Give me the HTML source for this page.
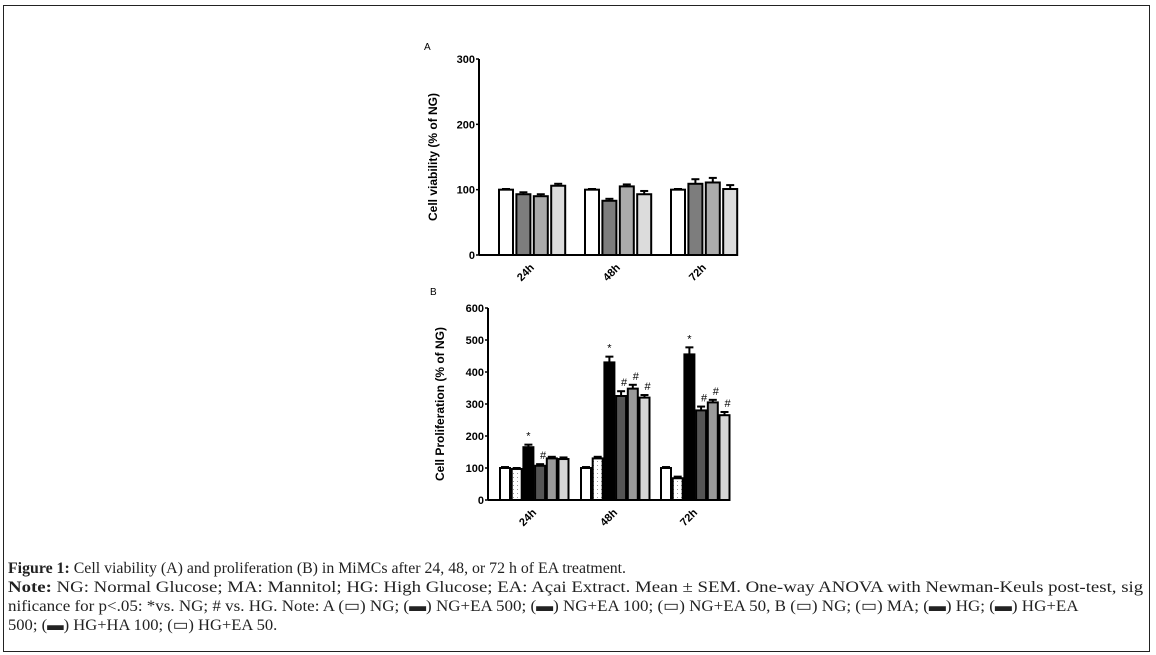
<!DOCTYPE html>
<html><head><meta charset="utf-8">
<style>
html,body{margin:0;padding:0;background:#fff;width:1156px;height:655px;overflow:hidden}
#frame{position:absolute;left:3px;top:5px;width:1147px;height:647px;border:1.5px solid #222;box-sizing:border-box}
.cap{position:absolute;left:8px;font-family:"Liberation Serif",serif;font-size:16px;color:#222;white-space:nowrap;line-height:19px;transform-origin:0 0}
svg text{font-family:"Liberation Sans",sans-serif}
</style></head><body>
<div id="frame"></div>
<svg id="chart" width="1156" height="655" style="position:absolute;left:0;top:0"></svg>
<div class="cap" data-w="618" style="top:559px"><b>Figure 1:</b> Cell viability (A) and proliferation (B) in MiMCs after 24, 48, or 72 h of EA treatment.</div>
<div class="cap" data-w="1135" style="top:578px"><b>Note:</b> NG: Normal Glucose; MA: Mannitol; HG: High Glucose; EA: Açai Extract. Mean ± SEM. One-way ANOVA with Newman-Keuls post-test, sig</div>
<div class="cap" data-w="1071" style="top:597px">nificance for p&lt;.05: *vs. NG; # vs. HG. Note: A (▭) NG; (▬) NG+EA 500; (▬) NG+EA 100; (▭) NG+EA 50, B (▭) NG; (▭) MA; (▬) HG; (▬) HG+EA</div>
<div class="cap" data-w="269" style="top:616px">500; (▬) HG+HA 100; (▭) HG+EA 50.</div>
<script>
const categories=["24h","48h","72h"];
const aValues=[[100,93,90,106],[100,83,105,93],[100,109,111,101]];
const aErrors=[[1,3,3,3],[1,3,3,5],[1,7,7,6]];
const aTicks=[0,100,200,300];
const bValues=[[100,97,165,107,130,128],[100,130,430,325,348,320],[100,68,455,280,305,265]];
const bErrors=[[3,3,8,5,5,5],[3,5,18,15,12,8],[3,5,22,12,8,10]];
const bMarks=[["","","*","#","",""],["","","*","#","#","#"],["","","*","#","#","#"]];
const bTicks=[0,100,200,300,400,500,600];

document.querySelectorAll('.cap').forEach(c=>{const w=+c.getAttribute('data-w');const s=w/c.scrollWidth;c.style.transform='scaleX('+s+')';});

const NS="http://www.w3.org/2000/svg";
const svg=document.getElementById('chart');
function mk(tag,attrs,parent){const e=document.createElementNS(NS,tag);for(const k in attrs)e.setAttribute(k,attrs[k]);(parent||svg).appendChild(e);return e;}

const defs=mk('defs',{});
const pat=mk('pattern',{id:'dots',width:4,height:4,patternUnits:'userSpaceOnUse'},defs);
mk('rect',{width:4,height:4,fill:'#fff'},pat);
mk('rect',{x:1,y:1,width:1,height:1,fill:'#999'},pat);

function drawChart(cfg){
  const g=mk('g',{});
  
  
  const y=v=>cfg.y0-(v/cfg.ymax)*(cfg.y0-cfg.ytop);
  const barX=(gi,si)=>cfg.gStart[gi]+si*cfg.step;
  const ya=mk('line',{x1:cfg.ax,y1:cfg.ytop,x2:cfg.ax,y2:cfg.y0,stroke:'#000','stroke-width':2},g);
  
  const xa=mk('line',{x1:cfg.ax,y1:cfg.y0,x2:cfg.xend,y2:cfg.y0,stroke:'#000','stroke-width':2},g);
  
  cfg.ticks.forEach(t=>{
    mk('line',{x1:cfg.ax-3,y1:y(t),x2:cfg.ax,y2:y(t),stroke:'#000','stroke-width':1.5},g);
    const tx=mk('text',{x:cfg.ax-4,y:y(t)+4,'text-anchor':'end','font-size':11,'font-weight':'bold'},g);
    tx.textContent=t;
    
  });
  const yt=mk('text',{transform:`translate(${cfg.titleX},${(cfg.ytop+cfg.y0)/2}) rotate(-90)`,'text-anchor':'middle','font-size':12,'font-weight':'bold'},g);
  yt.textContent=cfg.title;
  
  const pl=mk('text',{x:cfg.panelX,y:cfg.panelY,'font-size':10},g);
  pl.textContent=cfg.panel;
  
  categories.forEach((c,gi)=>{
    cfg.values[gi].forEach((v,si)=>{
      const x=barX(gi,si), e=cfg.errors[gi][si];
      const ex=x+cfg.bw/2;
      const el=mk('line',{x1:ex,y1:y(v),x2:ex,y2:y(v+e),stroke:'#000','stroke-width':2},g);
      
      mk('line',{x1:ex-4,y1:y(v+e),x2:ex+4,y2:y(v+e),stroke:'#000','stroke-width':2},g);
      const r=mk('rect',{x:x,y:y(v),width:cfg.bw,height:cfg.y0-y(v),fill:cfg.fills[si],stroke:'#000','stroke-width':2},g);
      
      if(cfg.marks){const m=cfg.marks[gi][si];if(m){
        const mt=mk('text',{x:ex+(m==='#'?3:0),y:y(v+e)-5,'text-anchor':'middle','font-size':11},g);
        mt.textContent=m;
        }}
    });
    const n=cfg.values[gi].length;
    const cx=barX(gi,0)+((n-1)*cfg.step+cfg.bw)/2;
    const lx=cx-4, ly=cfg.y0+20;
    const xl=mk('text',{x:lx,y:ly,transform:`rotate(-45 ${lx} ${ly})`,'text-anchor':'middle','font-size':11,'font-weight':'bold'},g);
    xl.textContent=c;
    
  });
}
drawChart({name:'chart-a-cell-viability',values:aValues,errors:aErrors,ticks:aTicks,ymax:300,y0:255,ytop:59,ax:479,xend:737,
  gStart:[499,585,671],step:17.4,bw:14,fills:['#fff','#7d7d7d','#ababab','#dcdcdc'],title:'Cell viability (% of NG)',titleX:437,panel:'A',panelX:424,panelY:50});
drawChart({name:'chart-b-cell-proliferation',values:bValues,errors:bErrors,marks:bMarks,ticks:bTicks,ymax:600,y0:500,ytop:308,ax:488,xend:727,
  gStart:[500,581,661],step:11.7,bw:10,fills:['#fff','url(#dots)','#000','#555','#9a9a9a','#d6d6d6'],title:'Cell Proliferation (% of NG)',titleX:444,panel:'B',panelX:430,panelY:295});
</script>
</body></html>
